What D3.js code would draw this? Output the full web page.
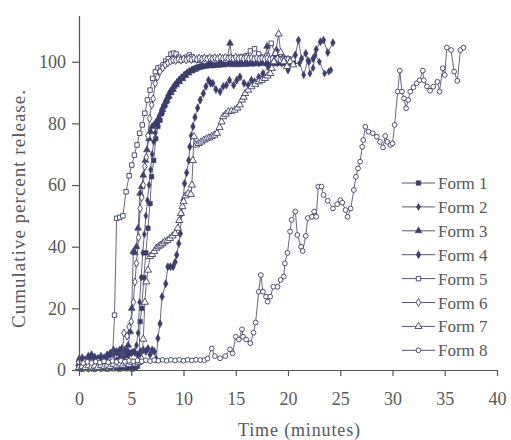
<!DOCTYPE html>
<html><head><meta charset="utf-8">
<script src="https://cdn.jsdelivr.net/npm/d3@7"></script>
</head><body style="margin:0;background:#fff">
<svg id="c" width="511" height="440" style="display:block" font-family="Tinos, Liberation Serif, Times New Roman, serif"></svg>
<script>
const seriesNames = ["Form 1","Form 2","Form 3","Form 4","Form 5","Form 6","Form 7","Form 8"];
const xTicks = [0,5,10,15,20,25,30,35,40];
const yTicks = [0,20,40,60,80,100];
const xTitle = "Time (minutes)";
const yTitle = "Cumulative percent release.";

const form1 = [[0,0.5],[0.3,0.3],[0.6,0.6],[0.9,0.4],[1.2,0.5],[1.5,0.3],[1.8,0.6],[2.1,0.4],[2.4,0.5],[2.7,0.3],[3.0,0.6],[3.3,0.4],[3.6,0.5],[3.9,0.3],[4.2,0.6],[4.5,0.4],[4.8,0.5],[5.1,0.3],[5.4,0.6],[5.6,1.2],[5.75,5],[5.85,15.7],[6.0,20],[6.2,30],[6.4,38],[6.6,46],[6.8,54],[6.95,62.7],[7.15,68],[7.35,75],[7.55,79],[7.75,81],[7.95,83.5],[8.15,85.5],[8.35,87],[8.55,88.5],[8.75,90],[8.95,91],[9.15,92],[9.35,93],[9.55,93.8],[9.75,94.5],[9.95,95.2],[10.2,96],[10.45,96.6],[10.7,97.2],[10.95,97.7],[11.2,98],[11.5,98.4],[11.8,98.6],[12.1,98.9],[12.4,99.1],[12.7,99.3],[13,99.2],[13.3,99.5],[13.6,99.4],[13.9,99.6],[14.2,99.5],[14.5,99.8],[14.8,99.6],[15.1,99.9],[15.4,99.7],[15.7,100],[16,99.8],[16.3,100.1],[16.6,99.6],[16.9,99.9],[17.2,99.7],[17.5,100],[17.8,99.8],[18.1,100.1],[18.4,99.9],[18.7,100.2],[19,99.8],[19.3,100],[19.6,99.7],[19.9,100.1],[20.2,99.8],[20.5,100]];

const form2 = [[0,3],[0.3,2.5],[0.6,3.5],[0.9,3],[1.2,4.2],[1.5,3.5],[1.8,3],[2.1,3.8],[2.4,3.2],[2.7,4],[3.0,4.5],[3.3,5],[3.6,5.5],[3.9,4.8],[4.2,5.5],[4.5,6],[4.8,5.2],[5.1,5.8],[5.35,5.5],[5.5,8],[5.65,12],[5.8,22],[5.95,30],[6.1,38],[6.25,44],[6.4,50],[6.55,55],[6.7,60],[6.85,65],[7.0,70],[7.15,74],[7.3,77],[7.5,80],[7.7,82.5],[7.9,84.5],[8.1,86],[8.3,87.5],[8.5,89],[8.7,90.2],[8.9,91.2],[9.1,92.2],[9.35,93.2],[9.6,94.2],[9.85,95],[10.1,95.8],[10.35,96.5],[10.6,97],[10.9,97.5],[11.2,98],[11.5,98.3],[11.8,98.6],[12.1,98.8],[12.4,99],[12.7,99.2],[13,99.1],[13.3,99.4],[13.6,99.3],[13.9,99.6],[14.2,99.4],[14.5,99.7],[14.8,99.5],[15.1,99.8],[15.4,99.6],[15.7,99.9],[16,99.7],[16.3,100],[16.6,99.6],[16.9,99.8],[17.2,99.5],[17.5,100],[17.8,99.7],[18.1,100],[18.4,99.5],[18.7,100.2],[19,99.5],[19.4,100],[19.8,99],[20.2,100],[20.6,99.5],[21.1,99.5],[21.5,95.7],[21.9,100.5],[22.1,96.2],[22.4,98],[22.6,102.2],[23,100],[23.5,96.2],[23.9,96.8],[24.1,97.3]];

const form3 = [[0,2],[0.3,2.5],[0.6,2],[0.9,3],[1.2,2.5],[1.5,3],[1.8,2.2],[2.1,3],[2.4,2.6],[2.7,3.2],[3.0,2.8],[3.3,3.5],[3.6,3],[3.9,4],[4.2,3.6],[4.5,4.5],[4.7,8],[4.9,12.4],[5.05,20],[5.2,38.4],[5.35,38],[5.5,40],[5.65,46],[5.85,57.3],[6.0,59.5],[6.15,63.2],[6.35,68],[6.5,71.4],[6.7,75],[6.85,77.3],[7.0,79],[7.2,79.5],[7.4,80.5],[7.6,81.5],[7.8,83],[8.0,84.5],[8.2,86],[8.4,87.5],[8.6,88.8],[8.8,90],[9.0,91],[9.3,92.5],[9.6,93.5],[9.9,94.5],[10.2,95.5],[10.5,96.3],[10.8,97],[11.1,97.5],[11.4,98],[11.7,98.3],[12,98.5],[12.3,98.8],[12.6,98.6],[12.9,99],[13.2,98.8],[13.5,99.1],[13.8,98.9],[14.1,99.2],[14.45,106],[14.7,99],[15,99.3],[15.3,99],[15.6,99.4],[15.9,99.1],[16.2,99.5],[16.5,99.2],[16.8,99.6],[17.1,99.3],[17.4,99.7],[17.7,99.4],[18.0,105],[18.3,99.6],[18.6,99.3],[18.9,99.8],[19.2,99.5],[19.5,99.9],[19.8,99.5],[20.1,100],[20.4,99.6]];

const form4 = [[0,3.5],[0.3,4],[0.6,3.2],[0.9,4.5],[1.2,5],[1.5,4.2],[1.8,3.8],[2.1,4.5],[2.4,4],[2.7,5],[3.0,5.5],[3.3,6.5],[3.6,6],[3.9,6.5],[4.1,7],[4.4,6.5],[4.7,6],[5.0,5.5],[5.3,6],[5.6,5],[5.9,6],[6.15,6.5],[6.4,6],[6.6,7],[6.8,5],[7.0,6.5],[7.2,6],[7.4,3.5],[7.55,10.3],[7.75,15],[7.95,23.8],[8.3,28],[8.5,33.5],[8.75,33.5],[9.0,33.5],[9.2,35],[9.35,37.3],[9.55,41],[9.7,44.3],[9.8,50.8],[9.95,55],[10.1,60.5],[10.3,64],[10.5,68],[10.6,72.4],[10.75,76],[10.9,79],[11.1,82],[11.35,85],[11.6,87.6],[11.9,89.7],[12.15,92],[12.4,94],[12.6,93],[12.8,93],[13.1,91],[13.5,90.3],[13.8,92],[14.1,92.4],[14.4,94],[14.8,92.4],[15.1,94],[15.4,95.1],[15.8,93],[16.2,92.4],[16.5,94],[16.8,93.5],[17.2,95],[17.6,96.2],[18.1,98.4],[18.5,100],[18.9,103.8],[19.4,99.5],[19.7,101],[20.0,97.3],[20.4,100],[20.7,102.2],[21.0,107],[21.3,101],[21.7,102.7],[22.0,100],[22.4,101],[22.7,104],[23.1,106.5],[23.4,107],[23.8,103],[24.3,106.2]];

const form5 = [[0,2.5],[0.3,2.2],[0.6,2.8],[0.9,2.4],[1.2,2.6],[1.5,2.2],[1.8,2.9],[2.1,2.5],[2.4,3],[2.7,2.6],[3.0,3.2],[3.2,3.5],[3.4,17.8],[3.6,49.2],[3.9,49.5],[4.2,50],[4.5,57.8],[4.8,63],[5.05,66.5],[5.3,69.7],[5.55,73],[5.8,76.8],[6.05,79.5],[6.3,83.3],[6.55,87.6],[6.8,90.8],[7.05,94.6],[7.3,96.8],[7.55,98],[7.8,98.2],[8.05,99],[8.3,100.2],[8.55,101],[8.8,102.5],[9.05,102.8],[9.3,102.5],[9.55,101.5],[9.8,100.5],[10.05,100.8],[10.3,101.5],[10.55,102.2],[10.8,101.6],[11.05,100.7],[11.5,100.5],[12,100.2],[12.5,100.8],[13,100.4],[13.5,101],[14,100.6],[14.5,101.2],[15,100.8],[15.5,101.5],[16,102],[16.4,103.5],[16.8,104.2],[17.2,102.5],[17.6,101.5],[18,102],[18.4,106],[18.8,102.5],[19.2,101],[19.6,100.5],[20,101],[20.4,100.2]];

const form6 = [[0,1],[0.3,0.6],[0.6,1],[0.9,0.5],[1.2,0.8],[1.5,0.6],[1.8,1],[2.1,0.7],[2.4,1.1],[2.7,0.8],[3.0,1.2],[3.3,1],[3.6,1.5],[3.9,2],[4.1,3],[4.3,12],[4.6,11],[4.8,14],[5.0,15.7],[5.2,22],[5.35,28.6],[5.5,34.6],[5.7,43],[5.85,52.4],[6.0,56],[6.15,60],[6.3,66],[6.45,69],[6.6,76],[6.75,81.6],[6.95,86],[7.1,88],[7.3,93],[7.5,95],[7.75,96.8],[8.0,98],[8.25,99],[8.5,99.6],[8.75,100.2],[9.0,100.6],[9.25,100.4],[9.5,100.8],[9.75,100.5],[10,100.9],[10.25,100.6],[10.5,101],[10.75,100.7],[11,101.1],[11.25,100.8],[11.5,101.2],[11.75,100.9],[12,101.2],[12.25,100.9],[12.5,101.3],[12.75,101],[13,101.3],[13.25,101],[13.5,101.4],[13.75,101.1],[14,101.4],[14.25,101.1],[14.5,101.3],[14.75,101],[15,101.4],[15.25,101.1],[15.5,101.3],[15.75,101],[16,101.3],[16.25,101],[16.5,101.2],[16.75,100.9],[17,101.2],[17.25,100.9],[17.5,101.1],[17.75,100.8],[18,101.1],[18.25,100.8],[18.5,101],[18.75,100.7],[19,101],[19.25,100.6],[19.5,100.9],[19.75,100.5],[20,100.8],[20.25,100.5],[20.5,100.7]];

const form7 = [[0,0.8],[0.3,1.2],[0.6,0.8],[0.9,1.4],[1.2,1],[1.5,1.3],[1.8,0.9],[2.1,1.5],[2.4,1.1],[2.7,1.6],[3.0,1.2],[3.3,1.8],[3.6,1.4],[3.9,2],[4.2,1.6],[4.5,2.2],[4.8,1.8],[5.1,2.4],[5.4,2],[5.7,2.5],[5.9,3],[6.0,3.5],[6.15,10],[6.3,22],[6.45,28.6],[6.6,32.4],[6.8,36.8],[7.0,37.5],[7.2,38.5],[7.4,39.5],[7.6,40],[7.8,40.5],[8.0,41],[8.2,41.6],[8.45,42],[8.7,42.7],[8.95,43.5],[9.2,44.3],[9.45,46],[9.6,48.5],[9.75,50.8],[9.9,53],[10.0,54.6],[10.2,56.5],[10.45,57.3],[10.7,57],[10.8,60],[10.9,68],[11.0,75.7],[11.2,73],[11.45,73.5],[11.7,74],[11.95,74.6],[12.2,75],[12.45,75.3],[12.7,75.7],[12.95,76.2],[13.2,76.8],[13.45,78.7],[13.65,80.5],[13.8,82.2],[14.05,83],[14.3,83.8],[14.6,84],[14.9,84.3],[15.15,85],[15.4,86],[15.6,87.6],[15.75,88.5],[15.9,89.7],[16.2,90.8],[16.5,91.9],[16.85,92.7],[17.2,93.5],[17.5,94],[17.8,94.6],[18.05,95.4],[18.3,96.2],[18.45,97.8],[18.65,100],[18.8,102.7],[19.1,109],[19.3,103],[19.6,100],[19.9,98.5],[20.2,100],[20.5,99]];

const form8 = [[0,2.5],[0.4,2.2],[0.8,2.6],[1.2,2.3],[1.6,2.7],[2.0,2.4],[2.4,2.8],[2.8,2.5],[3.2,2.9],[3.6,2.6],[4.0,3],[4.4,2.7],[4.8,3],[5.2,2.8],[5.6,3.1],[6.0,2.8],[6.4,3.2],[6.8,2.9],[7.2,3.2],[7.6,3],[8.0,3.3],[8.4,3],[8.8,3.3],[9.2,3.1],[9.6,3.3],[10.0,3],[10.4,3.3],[10.8,3.1],[11.2,3.3],[11.6,3.2],[12,3.2],[12.3,3.7],[12.7,7],[13,4.5],[13.5,3.8],[14,4.5],[14.45,6.7],[14.7,5.4],[15,10.8],[15.3,9.9],[15.6,13.2],[15.7,10.8],[16,9.9],[16.4,8.7],[16.7,12.1],[16.9,15.4],[17.2,25.4],[17.4,30.8],[17.6,25.4],[17.9,23.8],[18.05,22.2],[18.3,23.8],[18.6,27],[19,27],[19.3,29.2],[19.6,30.3],[19.7,34.6],[19.95,38],[20.2,44.9],[20.35,48.7],[20.7,51.4],[20.9,43.8],[21.25,40],[21.4,38.6],[21.7,43.5],[21.9,49.3],[22.3,49.7],[22.5,51.4],[22.7,49.7],[22.9,59.5],[23.2,59.5],[23.4,56.8],[23.8,54.9],[24.3,52.4],[24.7,53.8],[25.0,55.1],[25.2,54.3],[25.5,51.9],[25.7,49.7],[26.0,52.4],[26.3,58.4],[26.5,62.7],[26.7,65.4],[26.9,67.6],[27.1,72.4],[27.2,74.6],[27.4,78.9],[27.7,77.3],[28.1,76.8],[28.5,75.7],[28.8,74],[29.1,72.2],[29.3,75.9],[29.5,74],[29.8,73],[30.0,73.5],[30.2,79.5],[30.5,90.3],[30.7,97.1],[30.9,90.3],[31.1,88.1],[31.3,84.9],[31.5,87.6],[31.7,90.3],[32.0,91.7],[32.3,93],[32.6,94],[32.9,97.1],[33.0,94],[33.3,92],[33.6,90.6],[33.9,91.9],[34.3,93.5],[34.5,90.3],[34.8,97.9],[35.0,95.7],[35.2,104.6],[35.6,103.8],[35.9,96.8],[36.2,93.8],[36.5,103.8],[36.8,104.6]];

const allSeries = [form1, form2, form3, form4, form5, form6, form7, form8];

const textInk = "#585858";
const ink = "#3b3d6c";
const lineInk = "#55577a";
const axisInk = "#555";
const markerDefs = [
  {sym: d3.symbolSquare,   size: 20, filled: true},
  {sym: d3.symbolDiamond,  size: 14, filled: true},
  {sym: d3.symbolTriangle, size: 20, filled: true},
  {sym: d3.symbolDiamond,  size: 18, filled: true},
  {sym: d3.symbolSquare,   size: 20, filled: false},
  {sym: d3.symbolDiamond,  size: 18, filled: false},
  {sym: d3.symbolTriangle, size: 22, filled: false},
  {sym: d3.symbolCircle,   size: 18, filled: false}
];

function serif(sel, size) {
  return sel.style("font-family", '"Tinos"').attr("font-size", size).attr("fill", textInk);
}

const svg = d3.select("#c");
const x = d3.scaleLinear().domain([0, 40]).range([79, 497]);
const y = d3.scaleLinear().domain([0, 115]).range([370, 15.5]);

// series first (under text/axes)
const line = d3.line().x(d => x(d[0])).y(d => y(d[1]));
allSeries.forEach((data, i) => {
  const g = svg.append("g");
  g.append("path").datum(data).attr("d", line)
    .attr("fill", "none").attr("stroke", lineInk).attr("stroke-width", 0.9);
  const m = markerDefs[i];
  const sym = d3.symbol().type(m.sym).size(m.size);
  g.selectAll("path.mk").data(data).join("path").attr("class", "mk")
    .attr("d", sym)
    .attr("transform", d => `translate(${x(d[0])},${y(d[1])})`)
    .attr("fill", m.filled ? ink : "#fff")
    .attr("stroke", ink).attr("stroke-width", m.filled ? 0.6 : 0.9);
});

// axes
const gx = svg.append("g").attr("transform", "translate(0,370)")
  .call(d3.axisBottom(x).tickValues(xTicks).tickSize(6).tickPadding(16).tickSizeOuter(0));
const gy = svg.append("g").attr("transform", "translate(79,0)")
  .call(d3.axisLeft(y).tickValues(yTicks).tickSize(7).tickPadding(6).tickSizeOuter(0));
[gx, gy].forEach(g => {
  g.attr("font-family", null).attr("font-size", null);
  g.select(".domain").attr("stroke", axisInk).attr("stroke-width", 1.2);
  g.selectAll(".tick line").attr("stroke", axisInk).attr("stroke-width", 1.2);
  serif(g.selectAll(".tick text"), 18);
});

// legend
const lg = svg.append("g");
seriesNames.forEach((name, i) => {
  const yy = 183 + i * 23.9;
  lg.append("line").attr("x1", 402).attr("x2", 435).attr("y1", yy).attr("y2", yy)
    .attr("stroke", lineInk).attr("stroke-width", 1);
  const m = markerDefs[i];
  lg.append("path").attr("d", d3.symbol().type(m.sym).size(m.size)())
    .attr("transform", `translate(418.5,${yy})`)
    .attr("fill", m.filled ? ink : "#fff").attr("stroke", ink).attr("stroke-width", m.filled ? 0.6 : 0.9);
  serif(lg.append("text").attr("x", 438).attr("y", yy + 6), 17).text(name);
});

// titles
serif(svg.append("text").attr("x", 299).attr("y", 436).attr("text-anchor", "middle"), 18)
  .attr("textLength", 122).attr("lengthAdjust", "spacing").text(xTitle);
serif(svg.append("text").attr("transform", "translate(25,209) rotate(-90)").attr("text-anchor", "middle"), 19)
  .attr("textLength", 238).attr("lengthAdjust", "spacing").text(yTitle);
</script>
</body></html>
